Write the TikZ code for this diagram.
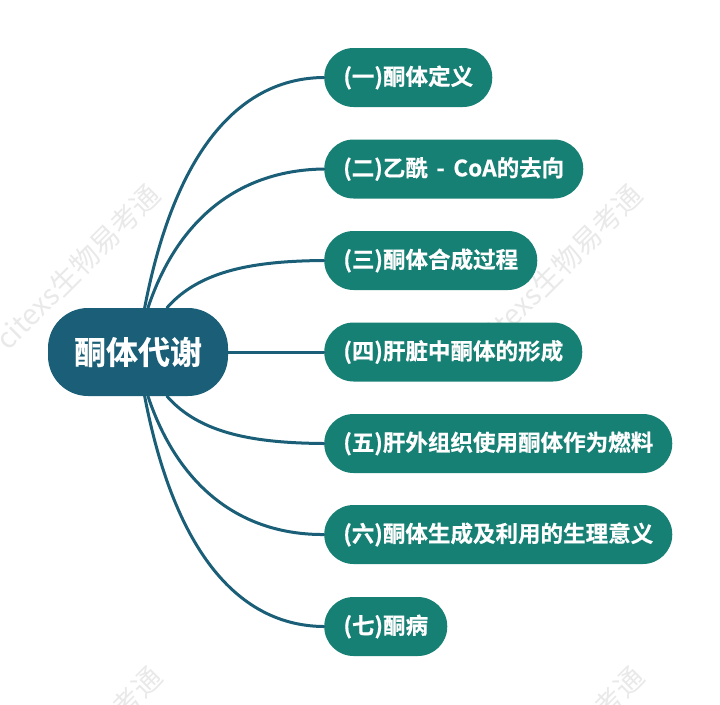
\documentclass[tikz,border=0pt]{standalone}
\usepackage{fontspec}
\newfontfamily\cjkb[FakeBold=0.6]{Noto Sans CJK SC Bold}
\newfontfamily\cjkr{Noto Sans CJK SC}
\definecolor{rootc}{HTML}{1A5F77}
\definecolor{childc}{HTML}{178074}
\definecolor{markc}{HTML}{E9E9E9}
\tikzset{
  x=0.75pt,y=-0.75pt,
  rootbox/.style={draw=none,fill=rootc,text=white,rounded corners=30pt,minimum width=135pt,minimum height=66pt,inner sep=0pt,font=\cjkb\fontsize{24}{28}\selectfont},
  childbox/.style={draw=none,fill=childc,text=white,rounded corners=22pt,minimum height=44.25pt,inner sep=0pt,font=\cjkb\fontsize{16.9}{20}\selectfont,anchor=west},
  link/.style={draw=rootc,line width=2.25pt,line cap=round},
  wmark/.style={text=markc,rotate=45,font=\cjkr\fontsize{21.3}{24}\selectfont,inner sep=0pt},
}
\begin{document}
\begin{tikzpicture}
\useasboundingbox (0,0) rectangle (720,704);
\clip (0,0) rectangle (720,704);
\node[wmark] (w1) at (78,267) {citexs生物易考通};
\node[wmark] (w2) at (560,267) {citexs生物易考通};
\node[wmark,anchor=east] (w3) at (157,672) {考通};
\node[wmark,anchor=east] (w4) at (639,672) {考通};
\node[rootbox] (root) at (138,352) {\raisebox{-1pt}{酮体代谢}};
\node[childbox,minimum width=126pt] (c1) at (324,77.5) {\raisebox{-0.8pt}{(一)酮体定义}};
\node[childbox,minimum width=194.25pt] (c2) at (324,169) {\raisebox{-0.8pt}{(二)乙酰\hspace{2.6pt} - \hspace{2.6pt}CoA的去向}};
\node[childbox,minimum width=159.75pt] (c3) at (324,260.5) {\raisebox{-0.8pt}{(三)酮体合成过程}};
\node[childbox,minimum width=193.5pt] (c4) at (324,352) {\raisebox{-0.8pt}{(四)肝脏中酮体的形成}};
\node[childbox,minimum width=261pt] (c5) at (324,443.5) {\raisebox{-0.8pt}{(五)肝外组织使用酮体作为燃料}};
\node[childbox,minimum width=261pt] (c6) at (324,534.5) {\raisebox{-0.8pt}{(六)酮体生成及利用的生理意义}};
\node[childbox,minimum width=92.25pt] (c7) at (324,626.5) {\raisebox{-0.8pt}{(七)酮病}};
\coordinate (t1) at ([xshift=5pt]root.north);
\coordinate (t2) at ([xshift=7.5pt]root.north);
\coordinate (t3) at ([xshift=21.75pt]root.north);
\coordinate (b1) at ([xshift=5pt]root.south);
\coordinate (b2) at ([xshift=7.5pt]root.south);
\coordinate (b3) at ([xshift=21.75pt]root.south);
\draw[link] (t1) .. controls (175,150) and (240,78) .. (c1.west);
\draw[link] (t2) .. controls (178,218) and (240,170) .. (c2.west);
\draw[link] (t3) .. controls (200,270) and (255,261) .. (c3.west);
\draw[link] (root.east) -- (c4.west);
\draw[link] (b3) .. controls (200,434) and (255,443) .. (c5.west);
\draw[link] (b2) .. controls (178,486) and (240,535) .. (c6.west);
\draw[link] (b1) .. controls (175,554) and (240,626) .. (c7.west);
\end{tikzpicture}
\end{document}
